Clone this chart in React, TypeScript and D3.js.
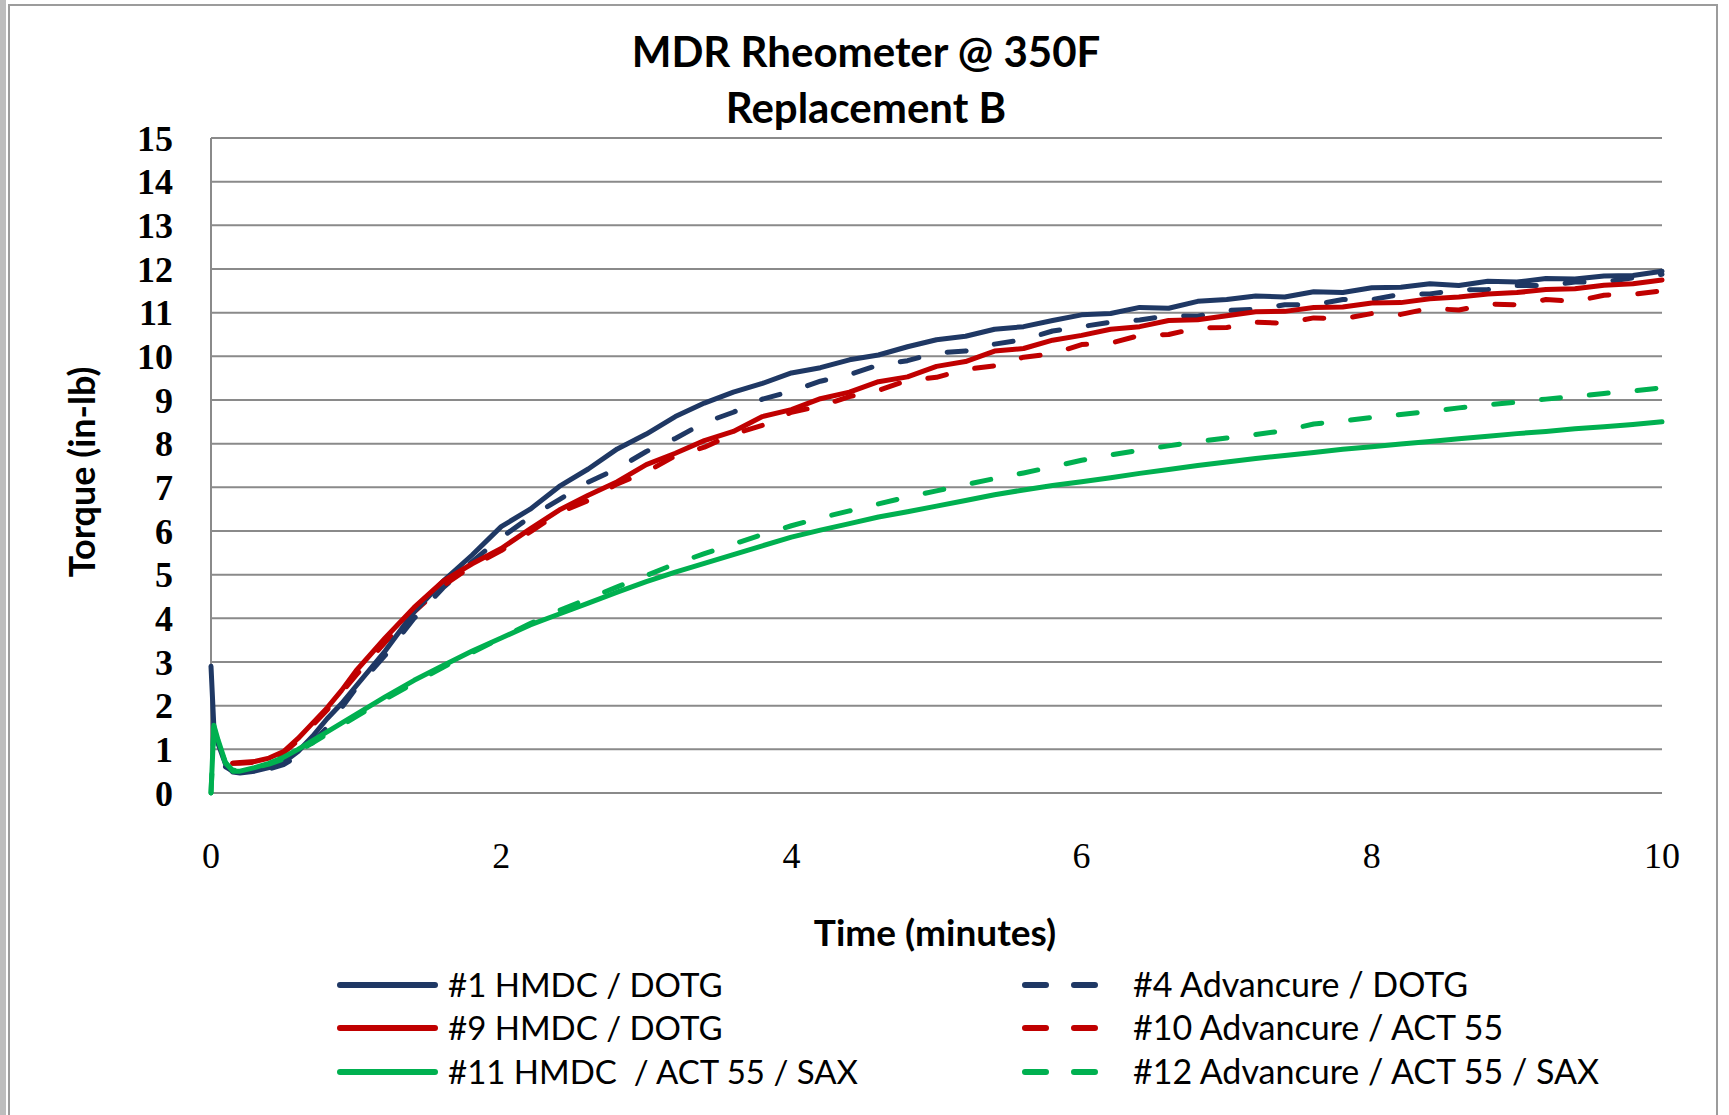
import React from "react";
import * as d3 from "d3";

const W = 1729;
const H = 1115;

const titleLines = ["MDR Rheometer @ 350F", "Replacement B"];
const xTitle = "Time (minutes)";
const yTitle = "Torque (in-lb)";
const xTicks = [0, 2, 4, 6, 8, 10];
const yTicks = [0, 1, 2, 3, 4, 5, 6, 7, 8, 9, 10, 11, 12, 13, 14, 15];

// time axis (minutes)
const timeMin = [
  0, 0.02, 0.05, 0.1, 0.15, 0.2, 0.3, 0.4, 0.5, 0.6, 0.7, 0.8, 0.9, 1.0,
  1.2, 1.4, 1.6, 1.8, 2.0, 2.2, 2.4, 2.6, 2.8, 3.0, 3.2, 3.4, 3.6, 3.8, 4.0,
  4.2, 4.4, 4.6, 4.8, 5.0, 5.2, 5.4, 5.6, 5.8, 6.0, 6.2, 6.4, 6.6, 6.8, 7.0,
  7.2, 7.4, 7.6, 7.8, 8.0, 8.2, 8.4, 8.6, 8.8, 9.0, 9.2, 9.4, 9.6, 9.8, 10.0,
];

const s1HmdcDotg = [
  2.9, 1.5, 1.12, 0.66, 0.48, 0.46, 0.5, 0.58, 0.7, 0.95, 1.3, 1.7, 2.05, 2.45,
  3.25, 4.15, 4.85, 5.45, 6.1, 6.5, 7.02, 7.42, 7.88, 8.22, 8.62, 8.93, 9.18, 9.38, 9.62,
  9.74, 9.92, 10.03, 10.22, 10.38, 10.46, 10.62, 10.68, 10.82, 10.95, 10.98, 11.12, 11.1, 11.26, 11.3,
  11.38, 11.36, 11.48, 11.46, 11.57, 11.58, 11.66, 11.62, 11.72, 11.7, 11.78, 11.77, 11.84, 11.85, 11.95,
];
const s4AdvDotg = [
  null, null, null, 0.6, 0.5, 0.48, 0.5, 0.55, 0.65, 0.85, 1.15, 1.5, 1.95, 2.4,
  3.15, 4.0, 4.7, 5.3, 5.85, 6.32, 6.72, 7.12, 7.43, 7.82, 8.12, 8.48, 8.72, 9.02, 9.2,
  9.43, 9.58, 9.8, 9.9, 10.08, 10.12, 10.28, 10.38, 10.58, 10.68, 10.78, 10.83, 10.93, 10.92, 11.05,
  11.08, 11.18, 11.18, 11.3, 11.3, 11.42, 11.43, 11.52, 11.53, 11.62, 11.62, 11.7, 11.7, 11.8, 11.88,
];
const s9HmdcDotg = [
  null, null, null, null, 0.68, 0.7, 0.72, 0.8, 0.95, 1.25, 1.6, 1.95, 2.35, 2.8,
  3.55, 4.25, 4.85, 5.25, 5.6, 6.05, 6.48, 6.82, 7.13, 7.52, 7.78, 8.07, 8.28, 8.62, 8.78,
  9.03, 9.18, 9.42, 9.53, 9.77, 9.88, 10.12, 10.18, 10.37, 10.48, 10.62, 10.68, 10.82, 10.84, 10.93,
  11.02, 11.03, 11.12, 11.13, 11.22, 11.23, 11.32, 11.36, 11.43, 11.46, 11.53, 11.55, 11.63, 11.66, 11.75,
];
const s10AdvAct55 = [
  null, null, null, null, 0.68, 0.68, 0.7, 0.78, 0.92, 1.2, 1.55, 1.9, 2.3, 2.7,
  3.45, 4.15, 4.75, 5.2, 5.55, 5.98, 6.42, 6.7, 7.08, 7.35, 7.72, 7.92, 8.22, 8.42, 8.72,
  8.86, 9.08, 9.22, 9.45, 9.52, 9.7, 9.78, 9.98, 10.06, 10.27, 10.3, 10.48, 10.5, 10.65, 10.66,
  10.78, 10.76, 10.88, 10.86, 10.98, 10.96, 11.1, 11.06, 11.2, 11.18, 11.3, 11.26, 11.4, 11.42, 11.5,
];
const s11HmdcAct55Sax = [
  0, 1.55, 1.2, 0.7, 0.5, 0.5, 0.58, 0.68, 0.82, 1.0, 1.2, 1.4, 1.6, 1.8,
  2.2, 2.58, 2.92, 3.25, 3.55, 3.85, 4.1, 4.35, 4.6, 4.84, 5.06, 5.26, 5.46, 5.66, 5.86,
  6.02, 6.17, 6.32, 6.44, 6.57, 6.7, 6.83, 6.94, 7.04, 7.13, 7.22, 7.32, 7.41, 7.5, 7.58,
  7.66, 7.73, 7.8, 7.87, 7.93, 7.99, 8.05, 8.11, 8.17, 8.23, 8.28, 8.34, 8.39, 8.44, 8.5,
];
const s12AdvAct55Sax = [
  0, 1.5, 1.15, 0.68, 0.52, 0.52, 0.58, 0.66, 0.78, 0.95, 1.15, 1.35, 1.55, 1.75,
  2.15, 2.52, 2.88, 3.22, 3.55, 3.88, 4.18, 4.45, 4.72, 4.98, 5.25, 5.48, 5.7, 5.92, 6.12,
  6.3, 6.46, 6.62, 6.78, 6.92, 7.06, 7.2, 7.33, 7.47, 7.62, 7.74, 7.85, 7.95, 8.05, 8.13,
  8.21, 8.3, 8.45, 8.52, 8.6, 8.67, 8.74, 8.82, 8.89, 8.95, 9.02, 9.08, 9.15, 9.21, 9.28,
];

const seriesNames = [
  "#1 HMDC / DOTG",
  "#9 HMDC / DOTG",
  "#11 HMDC  / ACT 55 / SAX",
  "#4 Advancure / DOTG",
  "#10 Advancure / ACT 55",
  "#12 Advancure / ACT 55 / SAX",
];
const seriesValues = [s1HmdcDotg, s9HmdcDotg, s11HmdcAct55Sax, s4AdvDotg, s10AdvAct55, s12AdvAct55Sax];
const seriesColors = ["#1f3864", "#c00000", "#00b050", "#1f3864", "#c00000", "#00b050"];
const seriesDashed = [false, false, false, true, true, true];

const SANS = "Lato, 'Open Sans', sans-serif";
const SERIF = "'Liberation Serif', 'DejaVu Serif', serif";

export default function App() {
  const left = 211, right = 1662, top = 138, bottom = 793;
  const x = d3.scaleLinear().domain([0, 10]).range([left, right]);
  const y = d3.scaleLinear().domain([0, 15]).range([bottom, top]);

  const line = d3
    .line<[number, number | null]>()
    .defined((d) => d[1] !== null)
    .x((d) => x(d[0]))
    .y((d) => y(d[1] as number));

  // stacking: blue dash, red dash, blue solid, red solid, green dash, green solid
  const drawOrder = [3, 4, 0, 1, 5, 2];

  const legendRows = [985, 1028, 1072];

  return (
    <svg
      width={W}
      height={H}
      viewBox={`0 0 ${W} ${H}`}
      style={{ position: "absolute", left: 0, top: 0, display: "block" }}
    >
      <rect x={0} y={0} width={W} height={H} fill="#ffffff" />
      <rect x={0} y={0} width={6} height={H} fill="#bdbdbd" />
      <rect x={9} y={5} width={1708} height={H + 10} fill="#ffffff" stroke="#9c9c9c" strokeWidth={2} />

      {/* title */}
      <text x={866} y={67} textAnchor="middle" fontFamily={SANS} fontWeight={700} fontSize={42} fill="#000">
        {titleLines[0]}
      </text>
      <text x={866} y={123} textAnchor="middle" fontFamily={SANS} fontWeight={700} fontSize={42} fill="#000">
        {titleLines[1]}
      </text>

      {/* gridlines */}
      {yTicks.map((t) => (
        <line key={t} x1={left} x2={right} y1={y(t)} y2={y(t)} stroke="#8a8a8a" strokeWidth={2} />
      ))}
      <line x1={left} x2={left} y1={top} y2={bottom} stroke="#8a8a8a" strokeWidth={2} />

      {/* y tick labels */}
      {yTicks.map((t) => (
        <text
          key={t}
          x={173}
          y={y(t)}
          dy="0.35em"
          textAnchor="end"
          fontFamily={SERIF}
          fontWeight={700}
          fontSize={36}
          fill="#000"
        >
          {t}
        </text>
      ))}

      {/* x tick labels */}
      {xTicks.map((t) => (
        <text key={t} x={x(t)} y={868} textAnchor="middle" fontFamily={SERIF} fontSize={36} fill="#000">
          {t}
        </text>
      ))}

      {/* axis titles */}
      <text x={935} y={946} textAnchor="middle" fontFamily={SANS} fontWeight={700} fontSize={37} fill="#000">
        {xTitle}
      </text>
      <text
        transform={`translate(95,472) rotate(-90)`}
        textAnchor="middle"
        fontFamily={SANS}
        fontWeight={700}
        fontSize={36}
        fill="#000"
      >
        {yTitle}
      </text>

      {/* series */}
      {drawOrder.map((i) => {
        const pts = timeMin.map((t, k) => [t, seriesValues[i][k]] as [number, number | null]);
        return (
          <path
            key={i}
            d={line(pts) || ""}
            fill="none"
            stroke={seriesColors[i]}
            strokeWidth={5}
            strokeLinejoin="round"
            strokeLinecap="round"
            strokeDasharray={seriesDashed[i] ? "19 29" : undefined}
          />
        );
      })}

      {/* legend */}
      {seriesNames.map((name, i) => {
        const col = i < 3 ? 0 : 1;
        const row = i % 3;
        const ly = legendRows[row];
        const x1 = col === 0 ? 340 : 1025;
        const x2 = col === 0 ? 435 : 1095;
        const tx = col === 0 ? 448 : 1133;
        return (
          <g key={name}>
            <line
              x1={x1}
              x2={x2}
              y1={ly}
              y2={ly}
              stroke={seriesColors[i]}
              strokeWidth={6}
              strokeLinecap="round"
              strokeDasharray={seriesDashed[i] ? "21 28" : undefined}
            />
            <text
              x={tx}
              y={ly + 12}
              fontFamily={SANS}
              fontSize={col === 0 ? 33 : 34}
              fill="#000"
              style={{ whiteSpace: "pre" }}
            >
              {name}
            </text>
          </g>
        );
      })}
    </svg>
  );
}
